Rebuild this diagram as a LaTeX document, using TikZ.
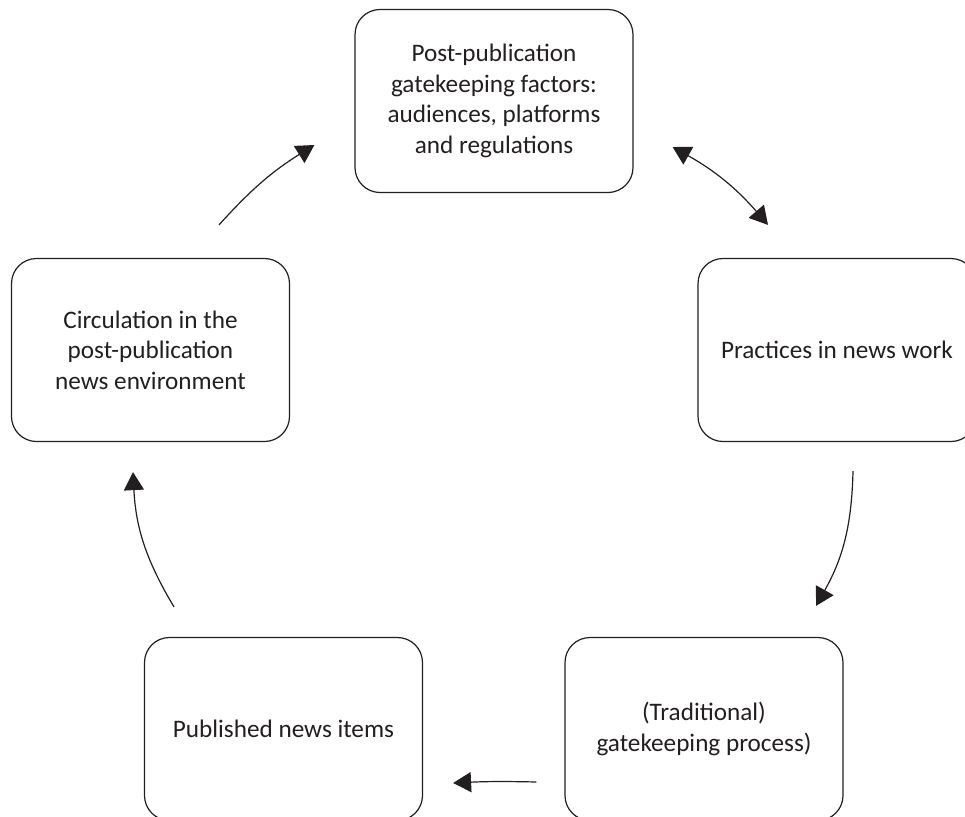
\documentclass[tikz,border=0pt]{standalone}
\usepackage{fontspec}
\setmainfont{Carlito}
\usepackage{tikz}
\usetikzlibrary{arrows.meta, positioning, calc}

\definecolor{inkgray}{HTML}{231F20}

\begin{document}
\begin{tikzpicture}[
  x=0.5pt, y=-0.5pt,
  stage/.style={draw=inkgray, line width=0.6pt, rounded corners=12.5pt,
    minimum width=139pt, minimum height=91.5pt, align=center,
    text=inkgray, font=\fontsize{12.6}{15.3}\selectfont},
  flow/.style={draw=inkgray, line width=0.6pt,
    -{Triangle[length=9pt, width=10pt]}},
]
  \useasboundingbox (0,0) rectangle (965,816);

  \node[stage] (factors)   at (494,101)  {Post-publication\\gatekeeping factors:\\audiences, platforms\\and regulations};
  \node[stage] (practices) at (837,350)   {Practices in news work};
  \node[stage] (process)   at (704,729)   {(Traditional)\\gatekeeping process)};
  \node[stage] (published) at (283.5,729) {Published news items};
  \node[stage] (circulation) at (150.5,350) {Circulation in the\\post-publication\\news environment};

  \draw[flow, {Triangle[length=9pt, width=10pt]}-{Triangle[length=9pt, width=10pt]}]
    ([shift={(39,46)}]factors.east) to[bend left=10] ([shift={(-69,-33)}]practices.north);
  \draw[flow] ([shift={(16,29)}]practices.south) to[bend left=14] ([shift={(112,-31)}]process.north);
  \draw[flow] ([shift={(-28,53)}]process.west) to[bend right=2] ([shift={(30,54)}]published.east);
  \draw[flow] ([shift={(-109.5,-30)}]published.north) to[bend left=14] ([shift={(-17.5,30)}]circulation.south);
  \draw[flow] ([shift={(68.5,-33)}]circulation.north) to[bend left=8] ([shift={(-40,44)}]factors.west);
\end{tikzpicture}
\end{document}
